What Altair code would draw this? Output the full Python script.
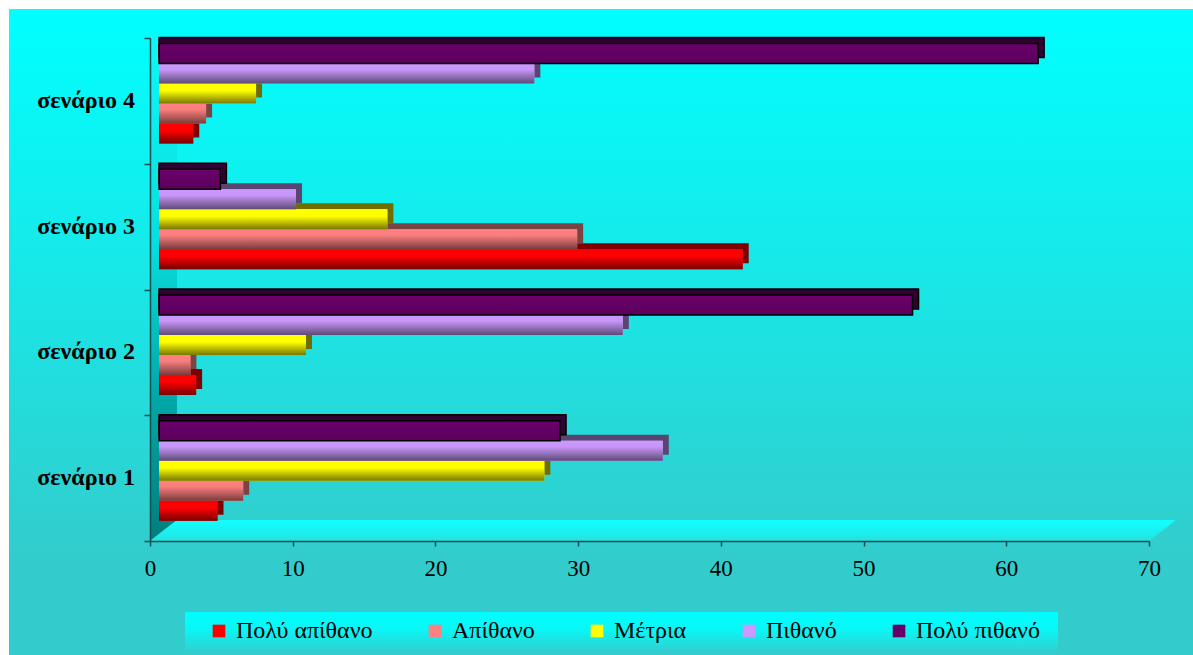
import altair as alt
import pandas as pd

# ---- data -------------------------------------------------------------
scenarios = ["σενάριο 1", "σενάριο 2", "σενάριο 3", "σενάριο 4"]
series = ["Πολύ απίθανο", "Απίθανο", "Μέτρια", "Πιθανό", "Πολύ πιθανό"]

# share of answers (%) per scenario, one list per answer category
poly_apithano = [4.1, 2.6, 40.9, 2.4]
apithano = [5.9, 2.2, 29.3, 3.3]
metria = [27.0, 10.3, 16.0, 6.8]
pithano = [35.3, 32.5, 9.6, 26.3]
poly_pithano = [28.1, 52.8, 4.3, 61.6]

x_ticks = [0, 10, 20, 30, 40, 50, 60, 70]
y_ticks = [0, 1, 2, 3, 4]

# ---- styling ----------------------------------------------------------
FONT = "Liberation Serif"
AXIS_COLOR = "#1A4D4D"
W, H = 999, 503

solid = ["#FF0000", "#FF8080", "#FFFF00", "#CC99FF", "#660066"]
depth = ["#7E0000", "#7A4444", "#6E6E00", "#5A4472", "#330033"]
shade = [
    [("#FF0000", 0), ("#FF0000", 0.35), ("#780000", 1)],
    [("#FF8080", 0), ("#FA7E7E", 0.3), ("#7A3C3C", 1)],
    [("#FFFF00", 0), ("#FFFF00", 0.35), ("#787800", 1)],
    [("#CC99FF", 0), ("#C796F8", 0.3), ("#5E4A78", 1)],
    [("#6C006C", 0), ("#5A005A", 1)],
]


def vgrad(stops):
    return alt.LinearGradient(
        gradient="linear",
        stops=[alt.GradientStop(color=c, offset=o) for c, o in stops],
        x1=0, x2=0, y1=0, y2=1,
    )


rows = []
for j, sc in enumerate(scenarios):
    for k, (name, vals) in enumerate(
        zip(series, [poly_apithano, apithano, metria, pithano, poly_pithano])
    ):
        rows.append({"scenario": sc, "series": name, "value": vals[j], "s": j, "k": k})
df = pd.DataFrame(rows)

xscale = alt.Scale(domain=[0, 70], nice=False, zero=True)
yscale = alt.Scale(domain=[0, 4], nice=False, zero=True)

x_axis = alt.Axis(
    values=x_ticks, title=None, grid=False, labelFont=FONT, labelFontSize=23,
    labelColor="black", labelPadding=11, tickSize=5, tickColor=AXIS_COLOR,
    domainColor=AXIS_COLOR, domainWidth=1.5, tickWidth=1.5, labelFlush=False,
    zindex=2,
)
y_axis = alt.Axis(
    values=y_ticks, title=None, grid=False, labels=False, tickSize=6,
    tickColor=AXIS_COLOR, domainColor=AXIS_COLOR, domainWidth=1.5, tickWidth=1.5,
    zindex=2,
)

# ---- backdrop ---------------------------------------------------------
one = alt.Data(values=[{}])
backdrop = alt.Chart(one).mark_rect(
    color=vgrad([("#00FFFF", 0), ("#12EEEE", 0.3), ("#33CCCC", 0.85), ("#33CCCC", 1)])
).encode(x=alt.value(-141), x2=alt.value(1043), y=alt.value(-29), y2=alt.value(617))

legend_box = alt.Chart(one).mark_rect(
    color=vgrad([("#00FFFF", 0), ("#0AF6F6", 0.45), ("#2ED3D3", 1)])
).encode(x=alt.value(35), x2=alt.value(908), y=alt.value(574), y2=alt.value(612))

# depth of the 3-D side wall and floor, in axis units
DX, DY = 1.89, 0.167
wall = alt.Chart(
    pd.DataFrame({"x": [0, DX], "y": [0, DY], "y2": [4, 4]})
).mark_area(
    orient="vertical",
    color=vgrad([("#10F6F6", 0), ("#0ADEDE", 0.4), ("#00AAAA", 0.7), ("#007E7E", 1)]),
).encode(
    x=alt.X("x:Q", scale=xscale, axis=x_axis),
    y=alt.Y("y:Q", scale=yscale, axis=y_axis),
    y2="y2:Q",
)

floor = alt.Chart(
    pd.DataFrame({"y": [0, DY], "x": [0, DX], "x2": [70, 70 + DX]})
).mark_area(
    orient="horizontal",
    color=vgrad([("#10FFFF", 0), ("#1AF2F2", 0.5), ("#28E0E0", 1)]),
).encode(
    y=alt.Y("y:Q", scale=yscale, axis=y_axis),
    x=alt.X("x:Q", scale=xscale, axis=x_axis),
    x2="x2:Q",
)

labels = alt.Chart(
    pd.DataFrame({"scenario": scenarios, "mid": [i + 0.5 for i in range(len(scenarios))]})
).mark_text(
    align="right", baseline="middle", font=FONT, fontSize=24, fontWeight="bold",
    color="black",
).encode(
    y=alt.Y("mid:Q", scale=yscale, axis=y_axis),
    x=alt.value(-15),
    text="scenario:N",
)

# ---- bars -------------------------------------------------------------
BAR, BASE = 0.159, 0.161
bars = alt.Chart(df).transform_calculate(
    y_lo=f"datum.s + {BASE} + datum.k * {BAR}",
    y_hi=f"datum.s + {BASE} + (datum.k + 1) * {BAR}",
    x0="0",
)
enc = dict(
    x=alt.X("x0:Q", scale=xscale, axis=x_axis),
    x2="value:Q",
    y=alt.Y("y_lo:Q", scale=yscale, axis=y_axis),
    y2="y_hi:Q",
)
# front face, and the top/side faces drawn as a box pushed back and up
FRONT = dict(xOffset=9, x2Offset=9)
BACK = dict(xOffset=9, x2Offset=15, yOffset=-6, y2Offset=-6)

depth_layers = []
front_layers = []
for k, name in enumerate(series):
    outline = dict(stroke="black", strokeWidth=1.5) if k == 4 else {}
    depth_layers.append(
        bars.transform_filter(alt.datum.series == name)
        .mark_bar(color=depth[k], **BACK, **outline)
        .encode(**enc)
    )
    front_layers.append(
        bars.transform_filter(alt.datum.series == name)
        .mark_bar(color=vgrad(shade[k]), **FRONT, **outline)
        .encode(**enc)
    )

keyed = bars.mark_bar(**FRONT).encode(
    color=alt.Color(
        "series:N",
        scale=alt.Scale(domain=series, range=solid),
        legend=alt.Legend(
            orient="none", legendX=57, legendY=581, direction="horizontal",
            title=None, symbolType="square", symbolSize=160, symbolStrokeWidth=0,
            labelFont=FONT, labelFontSize=24, labelColor="black", labelOffset=5,
            columnPadding=50, padding=0,
        ),
    ),
    **enc,
)

chart = alt.layer(
    backdrop, legend_box, wall, floor, labels, *depth_layers, keyed, *front_layers
).properties(
    width=W, height=H,
    autosize=alt.AutoSizeParams(type="none"),
    padding={"left": 150, "top": 38, "right": 44, "bottom": 114},
    background="white",
).configure_view(
    stroke="transparent"
).configure_legend(
    labelFont=FONT, labelFontSize=24, labelColor="black"
)

chart.save("out.html", embed_options={"renderer": "svg", "actions": False})
